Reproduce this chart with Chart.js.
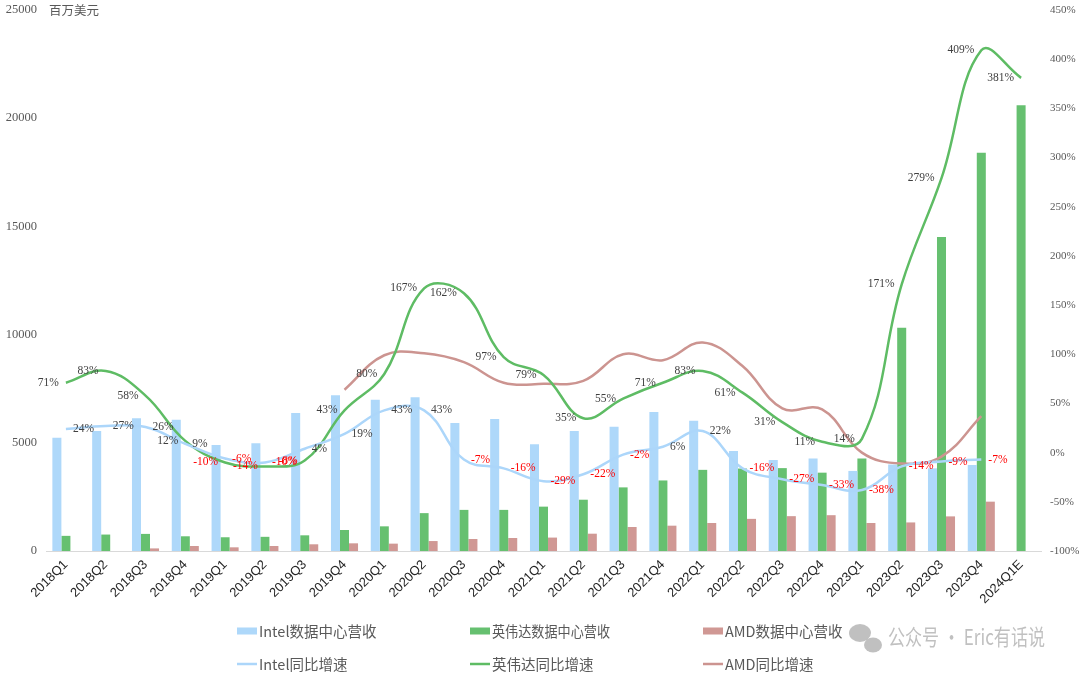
<!DOCTYPE html>
<html>
<head>
<meta charset="utf-8">
<script src="https://cdn.jsdelivr.net/npm/chart.js@4/dist/chart.umd.min.js"></script>
<style>
  html, body { margin: 0; padding: 0; background: #fff; }
  #wrap { width: 1080px; height: 681px; position: relative; }
</style>
</head>
<body>
<div id="wrap"><canvas id="chart"></canvas></div>
<script>
// DATA
const quarters = [
  '2018Q1', '2018Q2', '2018Q3', '2018Q4',
  '2019Q1', '2019Q2', '2019Q3', '2019Q4',
  '2020Q1', '2020Q2', '2020Q3', '2020Q4',
  '2021Q1', '2021Q2', '2021Q3', '2021Q4',
  '2022Q1', '2022Q2', '2022Q3', '2022Q4',
  '2023Q1', '2023Q2', '2023Q3', '2023Q4',
  '2024Q1E',
];

// 百万美元
const intelRevenue = [5230, 5550, 6140, 6070, 4900, 4980, 6380, 7200, 6990, 7110, 5910, 6100,
  4930, 5545, 5745, 6420, 6020, 4620, 4200, 4280, 3700, 4000, 3820, 3970, null];
const nvidiaRevenue = [700, 760, 790, 680, 635, 655, 725, 970, 1140, 1750, 1900, 1900,
  2050, 2370, 2940, 3260, 3750, 3810, 3830, 3620, 4280, 10320, 14510, 18400, 20600];
const amdRevenue = [null, null, 120, 230, 170, 230, 310, 355, 340, 460, 555, 600,
  620, 800, 1110, 1170, 1295, 1485, 1610, 1655, 1295, 1320, 1600, 2280, null];

// 同比增速 %
const intelGrowth = [24, 27, 26, 9, -6, -10, 4, 19, 43, 43, -7, -16,
  -29, -22, -2, 6, 22, -16, -27, -33, -38, -14, -9, -7, null];
const nvidiaGrowth = [71, 83, 58, 12, -10, -14, -8, 43, 80, 167, 162, 97,
  79, 35, 55, 71, 83, 61, 31, 11, 14, 171, 279, 409, 381];
const amdGrowth = [null, null, null, null, null, null, null, 64, 99, 101, 92, 71,
  70, 73, 100, 94, 112, 88, 45, 44, 0, -11, -4, 37, null];

const leftTicks = [0, 5000, 10000, 15000, 20000, 25000];
const rightTicks = [-100, -50, 0, 50, 100, 150, 200, 250, 300, 350, 400, 450];

// COLORS
const blue = 'rgb(174, 216, 250)';
const green = 'rgb(102, 192, 112)';
const rose = 'rgb(208, 152, 148)';
const blueLine = 'rgb(172, 214, 250)';
const greenLine = 'rgb(94, 188, 100)';
const roseLine = 'rgb(204, 148, 144)';

// PLUGINS
const valueLabels = {
  id: 'valueLabels',
  afterDatasetsDraw(chart) {
    const ctx = chart.ctx;
    ctx.save();
    ctx.font = '11.5px "Liberation Serif", serif';
    ctx.textBaseline = 'middle';
    chart.data.datasets.forEach((ds, i) => {
      if (!ds.showValues) return;
      const meta = chart.getDatasetMeta(i);
      meta.data.forEach((pt, j) => {
        const v = ds.data[j];
        if (v === null || v === undefined) return;
        ctx.fillStyle = v < 0 ? '#ff0000' : '#404040';
        if (ds.showValues === 'left') {
          ctx.textAlign = 'right';
          ctx.fillText(v + '%', pt.x - 7, pt.y);
        } else {
          ctx.textAlign = 'left';
          ctx.fillText(v + '%', pt.x + 7, pt.y);
        }
      });
    });
    ctx.restore();
  },
};

const decorations = {
  id: 'decorations',
  afterDraw(chart) {
    const ctx = chart.ctx;
    ctx.save();

    // unit
    ctx.fillStyle = '#595959';
    ctx.font = '12.5px "Noto Sans CJK SC", sans-serif';
    ctx.textAlign = 'left';
    ctx.textBaseline = 'middle';
    ctx.fillText('百万美元', 49, chart.chartArea.top);

    // legend
    const cols = [237, 470, 703];
    const rows = [631, 664];
    ctx.font = '14.5px "Noto Sans CJK SC", sans-serif';
    chart.data.datasets.forEach((ds) => {
      const col = cols[ds.legendCol];
      const row = rows[ds.type === 'line' ? 1 : 0];
      if (ds.type === 'line') {
        ctx.strokeStyle = ds.borderColor;
        ctx.lineWidth = 2.5;
        ctx.beginPath();
        ctx.moveTo(col, row);
        ctx.lineTo(col + 20, row);
        ctx.stroke();
      } else {
        ctx.fillStyle = ds.backgroundColor;
        ctx.fillRect(col, row - 3.5, 20, 7);
      }
      ctx.fillStyle = '#595959';
      ctx.fillText(ds.label, col + 22, row, 118);
    });

    // watermark
    ctx.fillStyle = 'rgba(150, 150, 150, 0.6)';
    ctx.beginPath();
    ctx.ellipse(860, 633, 11, 9, 0, 0, Math.PI * 2);
    ctx.fill();
    ctx.beginPath();
    ctx.ellipse(873, 645, 9, 7.5, 0, 0, Math.PI * 2);
    ctx.fill();
    ctx.font = '22px "Noto Sans CJK SC", sans-serif';
    ctx.fillText('公众号 · Eric有话说', 888, 637, 157);

    ctx.restore();
  },
};

// CHART
const bar = (label, data, color, col) => ({
  type: 'bar',
  label,
  data,
  backgroundColor: color,
  borderWidth: 0,
  yAxisID: 'y',
  order: 1,
  legendCol: col,
});

const line = (label, data, color, col, showValues) => ({
  type: 'line',
  label,
  data,
  borderColor: color,
  backgroundColor: color,
  borderWidth: 2.5,
  pointRadius: 0,
  tension: 0.4,
  fill: false,
  spanGaps: false,
  yAxisID: 'y1',
  order: 0,
  legendCol: col,
  showValues,
});

const fixWidth = (w) => (scale) => {
  scale.width = w;
  scale.paddingTop = 0;
  scale.paddingBottom = 0;
};

const chart = new Chart(document.querySelector('#chart'), {
  data: {
    labels: quarters,
    datasets: [
      bar('Intel数据中心营收', intelRevenue, blue, 0),
      bar('英伟达数据中心营收', nvidiaRevenue, green, 1),
      bar('AMD数据中心营收', amdRevenue, rose, 2),
      line('Intel同比增速', intelGrowth, blueLine, 0, 'right'),
      line('英伟达同比增速', nvidiaGrowth, greenLine, 1, 'left'),
      line('AMD同比增速', amdGrowth, roseLine, 2, false),
    ],
  },
  options: {
    responsive: true,
    maintainAspectRatio: false,
    animation: false,
    devicePixelRatio: 1,
    layout: { padding: { top: 10, left: 0, right: 0, bottom: 0 } },
    datasets: {
      bar: { barPercentage: 1, categoryPercentage: 0.68 },
    },
    plugins: {
      legend: { display: false },
      tooltip: { enabled: false },
    },
    scales: {
      x: {
        offset: true,
        grid: { display: false, drawTicks: false },
        border: { color: '#d9d9d9', width: 1 },
        ticks: {
          autoSkip: false,
          maxRotation: 45,
          minRotation: 45,
          padding: 6,
          color: '#262626',
          font: { family: '"Liberation Sans", sans-serif', size: 13 },
        },
        afterFit: (scale) => { scale.height = 130; },
      },
      y: {
        position: 'left',
        min: leftTicks[0],
        max: leftTicks[leftTicks.length - 1],
        afterBuildTicks: (scale) => { scale.ticks = leftTicks.map((v) => ({ value: v })); },
        grid: { display: false, drawTicks: false },
        border: { display: false },
        ticks: {
          padding: 9,
          color: '#595959',
          font: { family: '"Liberation Serif", serif', size: 12.5 },
          callback: (v) => String(v),
        },
        afterFit: fixWidth(46),
      },
      y1: {
        position: 'right',
        min: rightTicks[0],
        max: rightTicks[rightTicks.length - 1],
        afterBuildTicks: (scale) => { scale.ticks = rightTicks.map((v) => ({ value: v })); },
        grid: { display: false, drawTicks: false },
        border: { display: false },
        ticks: {
          padding: 9,
          color: '#595959',
          font: { family: '"Liberation Serif", serif', size: 11 },
          callback: (v) => v + '%',
        },
        afterFit: fixWidth(39),
      },
    },
  },
  plugins: [valueLabels, decorations],
});
</script>
</body>
</html>
